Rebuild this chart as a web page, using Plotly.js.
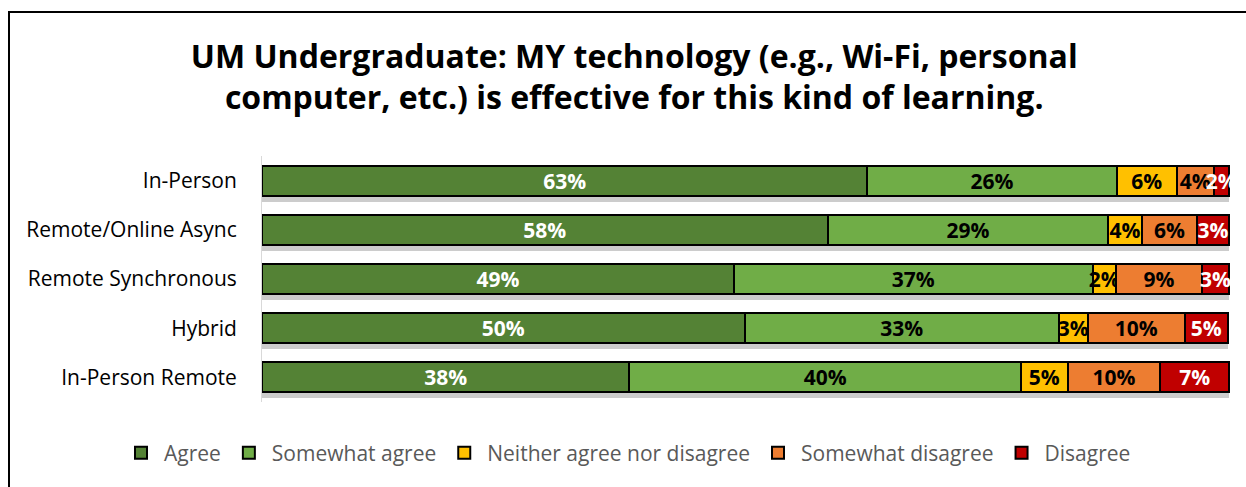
<!DOCTYPE html>
<html>
<head>
<meta charset="utf-8">
<script src="https://cdn.plot.ly/plotly-3.0.1.min.js"></script>
<style>
  body { margin: 0; background: #fff; }
  #chart { position: absolute; left: 0; top: 0; width: 1246px; height: 487px; }
  #frame { position: absolute; left: 8px; top: 11px; width: 1300px; height: 600px;
           border-left: 2px solid #000; border-top: 2px solid #000; pointer-events: none; }
</style>
</head>
<body>
<div id="chart"></div>
<div id="frame"></div>
<script>
// --- DADES ---
const categories = ['In-Person', 'Remote/Online Async', 'Remote Synchronous', 'Hybrid', 'In-Person Remote'];
const seriesNames = ['Agree', 'Somewhat agree', 'Neither agree nor disagree', 'Somewhat disagree', 'Disagree'];

const agree = [62.6, 58.5, 48.8, 49.9, 38.0];
const somewhatAgree = [25.8, 29.0, 37.1, 32.5, 40.5];
const neither = [6.2, 3.5, 2.4, 3.0, 4.8];
const somewhatDisagree = [3.8, 5.7, 8.9, 10.0, 9.6];
const disagree = [1.6, 3.3, 2.8, 4.5, 7.1];

const agreeLabels = ['63%', '58%', '49%', '50%', '38%'];
const somewhatAgreeLabels = ['26%', '29%', '37%', '33%', '40%'];
const neitherLabels = ['6%', '4%', '2%', '3%', '5%'];
const somewhatDisagreeLabels = ['4%', '6%', '9%', '10%', '10%'];
const disagreeLabels = ['2%', '3%', '3%', '5%', '7%'];

const colors = ['#548235', '#70AD47', '#FFC000', '#ED7D31', '#C00000'];
const textColors = ['#ffffff', '#000000', '#000000', '#000000', '#ffffff'];

const FONT = '"Open Sans", "Noto Sans", sans-serif';

// --- TRACES ---
const values = [agree, somewhatAgree, neither, somewhatDisagree, disagree];
const labels = [agreeLabels, somewhatAgreeLabels, neitherLabels, somewhatDisagreeLabels, disagreeLabels];

// ombra sota cada barra (subplot de sota, desplaçat uns píxels)
const totals = categories.map((_, i) => values.reduce((s, arr) => s + arr[i], 0));
const shadow = {
    type: 'bar', orientation: 'h',
    x: totals, y: categories, yaxis: 'y',
    marker: { color: 'rgba(0,0,0,0.2)' },
    hoverinfo: 'skip', showlegend: false
};

const traces = [shadow];
values.forEach((vals, k) => {
    traces.push({
        type: 'bar', orientation: 'h',
        name: seriesNames[k],
        x: vals, y: categories, yaxis: 'y2',
        text: labels[k],
        textposition: 'inside',
        insidetextanchor: 'middle',
        constraintext: 'none',
        textangle: 0,
        insidetextfont: { family: FONT, size: 21, color: textColors[k], weight: 'bold' },
        marker: { color: colors[k], line: { color: '#000', width: 2 } },
        cliponaxis: false
    });
});

const layout = {
    width: 1246, height: 487,
    margin: { l: 262, r: 16, t: 156, b: 79 },
    barmode: 'stack',
    bargap: 0.39,
    paper_bgcolor: 'rgba(0,0,0,0)', plot_bgcolor: 'rgba(0,0,0,0)',
    font: { family: FONT },
    title: {
        text: 'UM Undergraduate: MY technology (e.g., Wi-Fi, personal<br>computer, etc.) is effective for this kind of learning.',
        font: { family: FONT, size: 32, color: '#000', weight: 'bold' },
        xref: 'container', x: 0.509, xanchor: 'center',
        yref: 'container', y: 0.861, yanchor: 'top'
    },
    xaxis: {
        range: [0, 100.1], showgrid: false, zeroline: false,
        showticklabels: false, showline: false, fixedrange: true
    },
    yaxis: {
        domain: [0, 246 / 252],
        autorange: 'reversed',
        visible: false
    },
    yaxis2: {
        domain: [6 / 252, 1],
        anchor: 'x',
        autorange: 'reversed',
        showgrid: false, zeroline: false,
        showline: true, linecolor: '#d9d9d9', linewidth: 1,
        ticks: '', ticklabelstandoff: 20,
        tickfont: { family: FONT, size: 21, color: '#000' }
    },
    legend: {
        orientation: 'h',
        xref: 'paper', x: (118 - 262) / 968, xanchor: 'left',
        yref: 'paper', y: -45 / 252, yanchor: 'middle',
        itemwidth: 36,
        font: { family: FONT, size: 21, color: '#595959' },
        traceorder: 'normal'
    },
    showlegend: true
};

Plotly.newPlot('chart', traces, layout, { displayModeBar: false, staticPlot: true });
</script>
</body>
</html>
